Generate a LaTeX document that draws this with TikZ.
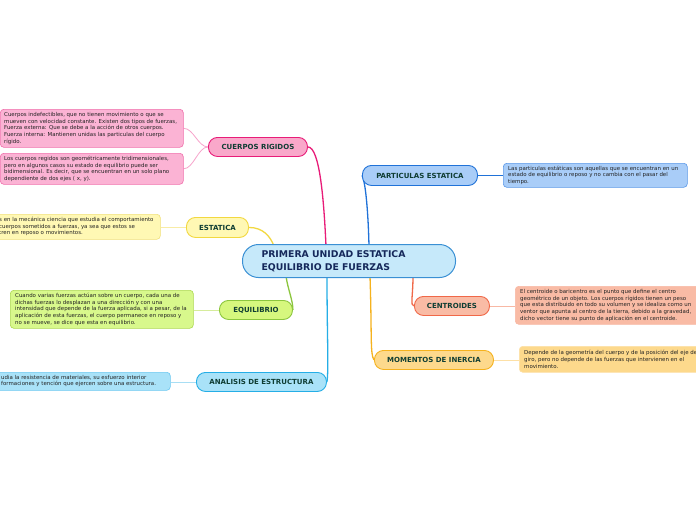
\documentclass[tikz,border=0pt]{standalone}
\usepackage{fontspec}
\setmainfont{DejaVu Sans}
\usetikzlibrary{calc}
\definecolor{txt}{HTML}{222222}
\definecolor{lbl}{HTML}{0F3D33}
\definecolor{ctxt}{HTML}{15285A}
\definecolor{cF}{HTML}{C6E9FA}\definecolor{cB}{HTML}{3A90D4}
\definecolor{pkF}{HTML}{F9A8CA}\definecolor{pkB}{HTML}{E81C78}\definecolor{pkD}{HTML}{FBB3D4}\definecolor{pkDB}{HTML}{F070AC}\definecolor{pkL}{HTML}{F7A3CB}
\definecolor{blF}{HTML}{A9CDF8}\definecolor{blB}{HTML}{2072D8}\definecolor{blDB}{HTML}{5A98E8}
\definecolor{yeF}{HTML}{FFF8B4}\definecolor{yeB}{HTML}{F2D840}\definecolor{yeDB}{HTML}{F0E07A}\definecolor{yeL}{HTML}{F8ECA6}
\definecolor{grF}{HTML}{D6F77E}\definecolor{grB}{HTML}{8CC63E}\definecolor{grD}{HTML}{D8F88C}\definecolor{grDB}{HTML}{ACD850}\definecolor{grL}{HTML}{D6EC9C}
\definecolor{orF}{HTML}{F9BBA5}\definecolor{orB}{HTML}{F06848}\definecolor{orL}{HTML}{F8B8A4}
\definecolor{goF}{HTML}{FDD98C}\definecolor{goB}{HTML}{F5B21E}\definecolor{goL}{HTML}{FDE0A6}
\definecolor{cyF}{HTML}{A9E2F8}\definecolor{cyB}{HTML}{25AEE6}\definecolor{cyDB}{HTML}{6CC8F0}\definecolor{cyL}{HTML}{A8DEF4}
\newcommand\lblfont{\fontsize{7}{8}\selectfont\bfseries}
\newcommand\dscfont{\fontsize{5.45}{6.8}\selectfont}
\pgfdeclarelayer{bg}
\pgfsetlayers{bg,main}
\tikzset{
  topic/.style={rounded corners=9pt, draw, line width=0.9pt, inner sep=0pt, minimum height=19pt, font=\lblfont, text=lbl, anchor=north west},
  dbox/.style={rounded corners=3.5pt, draw, line width=0.6pt, inner sep=0pt, anchor=north west},
  dtext/.style={font=\dscfont, align=left, inner sep=0pt, text=txt, anchor=west},
  mainline/.style={line width=1.3pt},
  subline/.style={line width=0.8pt}
}
\begin{document}
\begin{tikzpicture}[x=1pt,y=-1pt]
\useasboundingbox (0,0) rectangle (696,520);

% central
\node[rounded corners=16pt, draw=cB, fill=cF, line width=1pt, inner ysep=0pt, inner xsep=19pt,
      text width=175pt, minimum height=33pt, align=left, anchor=north west,
      font=\fontsize{9.3}{12.8}\selectfont\bfseries, text=ctxt] (c) at (242,244)
  {PRIMERA UNIDAD ESTATICA\\EQUILIBRIO DE FUERZAS};

% topics
\node[topic, draw=pkB, fill=pkF, minimum width=99pt] (cr) at (208,137) {CUERPOS RIGIDOS};
\node[topic, draw=blB, fill=blF, minimum width=115pt, minimum height=20pt] (pe) at (362,165) {PARTICULAS ESTATICA};
\node[topic, draw=yeB, fill=yeF, minimum width=62pt, minimum height=20pt] (es) at (186,217) {ESTATICA};
\node[topic, draw=grB, fill=grF, minimum width=73pt] (eq) at (219,300) {EQUILIBRIO};
\node[topic, draw=orB, fill=orF, minimum width=75pt] (ce) at (414,296) {CENTROIDES};
\node[topic, draw=goB, fill=goF, minimum width=119pt] (mo) at (374,350) {MOMENTOS DE INERCIA};
\node[topic, draw=cyB, fill=cyF, minimum width=130pt] (an) at (196,372) {ANALISIS DE ESTRUCTURA};

% description boxes
\node[dbox, draw=pkDB, fill=pkD, minimum width=183pt, minimum height=38pt] (cr1) at (0,109) {};
\node[dbox, draw=pkDB, fill=pkD, minimum width=183pt, minimum height=31pt] (cr2) at (0,153) {};
\node[dbox, draw=blDB, fill=blF, minimum width=184pt, minimum height=24pt] (pe1) at (503,163) {};
\node[dbox, draw=yeDB, fill=yeF, minimum width=220pt, minimum height=25pt] (es1) at (-60,214) {};
\node[dbox, draw=grDB, fill=grD, minimum width=183pt, minimum height=38pt] (eq1) at (10,290) {};
\node[dbox, draw=orL, fill=orF, minimum width=200pt, minimum height=38pt] (ce1) at (515,286) {};
\node[dbox, draw=goL, fill=goF, minimum width=200pt, minimum height=26pt] (mo1) at (519,346) {};
\node[dbox, draw=cyDB, fill=cyF, minimum width=230pt, minimum height=18pt] (an1) at (-60,372) {};

% description texts
\node[dtext] (cr1t) at ($(cr1.west)+(4,0)$) {Cuerpos indefectibles, que no tienen movimiento o que se\\mueven con velocidad constante. Existen dos tipos de fuerzas,\\Fuerza externa: Que se debe a la acción de otros cuerpos.\\Fuerza interna: Mantienen unidas las particulas del cuerpo\\rígido.};
\node[dtext] (cr2t) at ($(cr2.west)+(4,0)$) {Los cuerpos regidos son geométricamente tridimensionales,\\pero en algunos casos su estado de equilibrio puede ser\\bidimensional. Es decir, que se encuentran en un solo plano\\dependiente de dos ejes ( x, y).};
\node[dtext] (pe1t) at ($(pe1.west)+(5,0)$) {Las particulas estáticas son aquellas que se encuentran en un\\estado de equilibrio o reposo y no cambia con el pasar del\\tiempo.};
\node[dtext] (es1t) at (-1,226.5) {s en la mecánica ciencia que estudia el comportamiento\\cuerpos sometidos a fuerzas, ya sea que estos se\\tren en reposo o movimientos.};
\node[dtext] (eq1t) at ($(eq1.west)+(5,0)$) {Cuando varias fuerzas actúan sobre un cuerpo, cada una de\\dichas fuerzas lo desplazan a una dirección y con una\\intensidad que depende de la fuerza aplicada, si a pesar, de la\\aplicación de esta fuerzas, el cuerpo permanece en reposo y\\no se mueve, se dice que esta en equilibrio.};
\node[dtext] (ce1t) at ($(ce1.west)+(5,0)$) {El centroide o baricentro es el punto que define el centro\\geométrico de un objeto. Los cuerpos rígidos tienen un peso\\que esta distribuido en todo su volumen y se idealiza como un\\ventor que apunta al centro de la tierra, debido a la gravedad,\\dicho vector tiene su punto de aplicación en el centroide.};
\node[dtext] (mo1t) at ($(mo1.west)+(5,0)$) {Depende de la geometría del cuerpo y de la posición del eje de\\giro, pero no depende de las fuerzas que intervienen en el\\movimiento.};
\node[dtext] (an1t) at (1,381) {udia la resistencia de materiales, su esfuerzo interior\\formaciones y tención que ejercen sobre una estructura.};

\begin{pgfonlayer}{bg}
\fill[white] (0,0) rectangle (696,520);
% main connectors
\draw[mainline, draw=pkB] (cr.east) .. controls +(12,0) and +(-2,-44) .. ($(c.north west)+(84,2)$);
\draw[mainline, draw=blB] (pe.west) .. controls +(3,5) and +(-1,-40) .. ($(c.north west)+(127,2)$);
\draw[mainline, draw=yeB] (es.east) .. controls +(14,0) and +(-4,-10) .. ($(c.north west)+(32,2)$);
\draw[mainline, draw=grB] ($(c.south west)+(44,-2)$) .. controls +(2,14) and +(0,-10) .. (eq.east);
\draw[mainline, draw=cyB] ($(c.south west)+(85,-2)$) .. controls +(0,60) and +(2,-12) .. (an.east);
\draw[mainline, draw=orB] ($(c.south west)+(171,-2)$) .. controls +(0,20) and +(-4,0) .. (ce.west);
\draw[mainline, draw=goB] ($(c.south west)+(128,-2)$) .. controls +(2,60) and +(-4,-6) .. (mo.west);
% description connectors
\draw[subline, draw=pkL] (cr.west) .. controls +(-10,0) and +(10,0) .. (cr1.east);
\draw[subline, draw=pkL] (cr.west) .. controls +(-10,0) and +(10,0) .. (cr2.east);
\draw[subline, draw=blB] (pe.east) -- (pe1.west |- pe.east);
\draw[subline, draw=yeL] (es.west) -- (es1.east |- es.west);
\draw[subline, draw=grL] (eq.west) -- (eq1.east |- eq.west);
\draw[subline, draw=orL] (ce.east) -- (ce1.west |- ce.east);
\draw[subline, draw=goL] (mo.east) -- (mo1.west |- mo.east);
\draw[subline, draw=cyL] (an.west) -- (an1.east |- an.west);
\end{pgfonlayer}
\end{tikzpicture}
\end{document}
